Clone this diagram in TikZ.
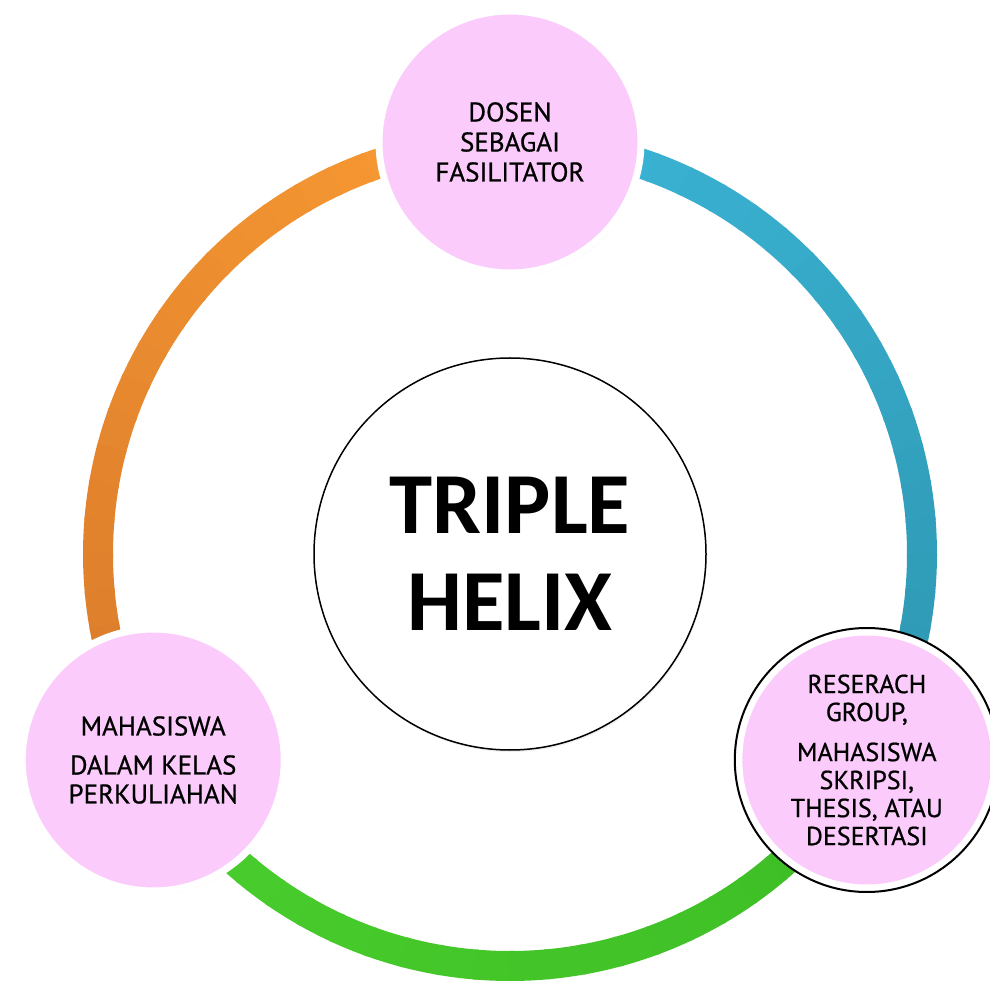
\documentclass[tikz,border=0pt]{standalone}
\usepackage{fontspec}
\setmainfont{PT Sans}
\newfontfamily\bubblefont[FakeBold=0.7]{PT Sans}
\newfontfamily\headfont{Carlito}
\usetikzlibrary{shadows}

\definecolor{ringorange}{HTML}{F99B33}
\definecolor{ringorangedark}{HTML}{D97A2B}
\definecolor{ringblue}{HTML}{3BB5D7}
\definecolor{ringbluedark}{HTML}{2E97B1}
\definecolor{ringgreen}{HTML}{4ACE2D}
\definecolor{ringgreendark}{HTML}{3DBD25}
\definecolor{bubblepink}{HTML}{FBCCFB}

\begin{document}
\begin{tikzpicture}[x=1pt,y=1pt,
    bubble/.style={circle,fill=bubblepink,draw=white,line width=7pt,minimum size=262pt,inner sep=0pt,align=center,
        font=\bubblefont\fontsize{27}{30}\selectfont,drop shadow={opacity=0.18,shadow xshift=2pt,shadow yshift=-3pt}},
    core/.style={circle,fill=white,draw=black,line width=1.5pt,minimum size=392pt,inner sep=0pt,align=center,
        font=\headfont\bfseries\fontsize{87}{97}\selectfont,drop shadow={opacity=0.12,shadow xshift=1pt,shadow yshift=-2pt}}]
    \useasboundingbox (0,0) rectangle (990,986);
    \coordinate (hub) at (510,432);

    % Ring, drawn in short pieces so the colour can shade
    \foreach \a in {0,...,23} {
        \pgfmathsetmacro{\mix}{100-\a*100/23}
        \draw[ringorange!\mix!ringorangedark,line width=30pt] ([shift={(90+\a*5:412)}]hub) arc (90+\a*5:95.5+\a*5:412);
        \draw[ringgreen!\mix!ringgreendark,line width=30pt] ([shift={(210+\a*5:412)}]hub) arc (210+\a*5:215.5+\a*5:412);
        \draw[ringblue!\mix!ringbluedark,line width=30pt] ([shift={(90-\a*5:412)}]hub) arc (90-\a*5:84.5-\a*5:412);
    }

    % Centre
    \node[core] (helix) at (hub) {TRIPLE\\HELIX};

    % The three partners
    \node[bubble] (dosen) at ([shift={(90:412)}]hub) {DOSEN\\SEBAGAI\\FASILITATOR};
    \node[bubble,font=\bubblefont\fontsize{27}{29}\selectfont] (kelas) at ([shift={(210:412)}]hub)
        {MAHASISWA\\[10pt]DALAM KELAS\\PERKULIAHAN};
    \node[bubble,minimum size=256pt,font=\bubblefont\fontsize{26}{28}\selectfont] (riset) at ([shift={(330:412)}]hub)
        {RESERACH\\GROUP,\\[12pt]MAHASISWA\\SKRIPSI,\\THESIS, ATAU\\DESERTASI};
    \draw[line width=2pt] (riset.center) circle[radius=132pt];
\end{tikzpicture}
\end{document}
